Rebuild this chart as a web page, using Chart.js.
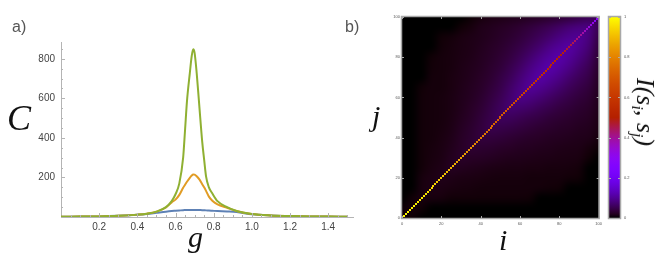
<!DOCTYPE html>
<html>
<head>
<meta charset="utf-8">
<script src="https://cdn.jsdelivr.net/npm/chart.js@4.4.1/dist/chart.umd.min.js"></script>
<style>
html,body{margin:0;padding:0;background:#fff}
body{position:relative;width:665px;height:261px;overflow:hidden}
canvas{position:absolute;top:0}
.t{position:absolute;white-space:nowrap;line-height:1}
.panel{font-family:"Liberation Sans",Arial,sans-serif;font-size:16px;color:#555}
.m{font-family:"Liberation Serif","DejaVu Serif",serif;font-style:italic;color:#111}
sub{font-size:0.62em;vertical-align:-0.28em;line-height:0}
</style>
</head>
<body>
<canvas id="cA" width="360" height="261" style="left:0"></canvas>
<canvas id="cB" width="245" height="261" style="left:360px"></canvas>
<canvas id="cC" width="40" height="261" style="left:600px"></canvas>
<div class="t panel" style="left:12px;top:19px">a)</div>
<div class="t panel" style="left:345px;top:19px">b)</div>
<div class="t m" style="left:7px;top:100px;font-size:36px">C</div>
<div class="t m" style="left:188px;top:222px;font-size:30px">g</div>
<div class="t m" style="left:372px;top:101px;font-size:30px">j</div>
<div class="t m" style="left:499px;top:225px;font-size:30px">i</div>
<div class="t m" style="left:645px;top:112px;font-size:26px;transform:translate(-50%,-50%) rotate(90deg)">I(s<sub>i</sub>, s<sub>j</sub>)</div>
<script>
// ---------- Panel a) data ----------
const gValues = [0, 0.1, 0.2, 0.3, 0.4, 0.45, 0.5, 0.55, 0.58, 0.6, 0.62, 0.64, 0.65, 0.66, 0.675, 0.685, 0.693, 0.70, 0.711, 0.725, 0.74, 0.75, 0.76, 0.775, 0.793, 0.82, 0.87, 0.92, 1.0, 1.1, 1.2, 1.3, 1.4, 1.5];
const blueC   = [1, 2, 3, 6, 11, 15, 21, 27, 30, 31.5, 33, 34.5, 35, 35.5, 36, 36, 36, 36, 35.5, 35, 34.5, 34, 33.5, 32.5, 31.5, 30, 28, 25, 14, 8, 5, 3, 2, 1.5];
const orangeC = [1, 2, 3, 6, 12, 17, 27, 48, 74, 88, 112, 148, 163, 178, 198, 210, 215, 214, 206, 190, 166, 150, 132, 103, 82, 64, 47, 30, 15, 8, 5, 3, 2, 1.5];
const greenC  = [1, 2, 3, 6, 12, 17, 27, 50, 80, 115, 170, 300, 440, 585, 728, 815, 848, 830, 728, 558, 380, 290, 205, 150, 119, 80, 50, 30, 15, 8, 5, 3, 2, 1.5];
const xTickLabels = ['0.2', '0.4', '0.6', '0.8', '1.0', '1.2', '1.4'];
const yTickLabels = ['200', '400', '600', '800'];

// ---------- Panel b) data ----------
const heatTicks = [0, 20, 40, 60, 80, 100];
const fieldNodes = [0, 5, 10, 15, 20, 25, 30, 35, 40, 45, 50, 55, 60, 65, 70, 75, 80, 85, 90, 95, 100];
// upper triangle: row a holds I for (node a, node b) with b = a..100
const fieldUpper = [
  [0.004,0.003,0,0,0,0,0,0,0,0,0,0,0,0,0,0,0,0,0,0,0],
  [0.007,0.004,0,0,0,0,0,0,0,0,0,0,0,0,0,0,0,0,0,0],
  [0.009,0.009,0.008,0.005,0.005,0.005,0.005,0.005,0.005,0.005,0.005,0.004,0,0,0,0,0,0,0],
  [0.012,0.012,0.010,0.009,0.008,0.007,0.007,0.007,0.007,0.007,0.007,0.006,0.005,0.004,0,0,0,0],
  [0.015,0.014,0.012,0.011,0.010,0.009,0.008,0.008,0.008,0.007,0.007,0.007,0.007,0.005,0.004,0,0],
  [0.020,0.019,0.017,0.015,0.013,0.012,0.011,0.011,0.010,0.010,0.009,0.009,0.008,0.006,0,0],
  [0.025,0.024,0.023,0.021,0.019,0.017,0.016,0.015,0.014,0.013,0.012,0.011,0.010,0.004,0],
  [0.031,0.030,0.029,0.026,0.024,0.021,0.020,0.018,0.017,0.015,0.014,0.013,0.008,0.003],
  [0.038,0.038,0.036,0.032,0.029,0.026,0.024,0.021,0.020,0.018,0.016,0.015,0.008],
  [0.048,0.047,0.044,0.040,0.035,0.031,0.028,0.025,0.023,0.020,0.018,0.012],
  [0.058,0.058,0.053,0.047,0.042,0.036,0.032,0.028,0.025,0.022,0.014],
  [0.072,0.070,0.065,0.056,0.049,0.041,0.036,0.030,0.026,0.016],
  [0.087,0.084,0.075,0.064,0.054,0.045,0.037,0.031,0.018],
  [0.100,0.095,0.084,0.070,0.057,0.046,0.037,0.021],
  [0.110,0.102,0.088,0.071,0.057,0.045,0.024],
  [0.115,0.104,0.088,0.069,0.053,0.028],
  [0.114,0.101,0.083,0.063,0.033],
  [0.108,0.093,0.074,0.038],
  [0.097,0.081,0.045],
  [0.082,0.053],
  [0.056]
];
// diagonal I(s_i, s_i), i = 0..100
const diagValues = [
  1.00,1.00,0.99,0.99,0.99,0.98,0.98,0.98,0.97,0.97,0.97,
  0.96,0.96,0.96,0.95,0.95,0.94,0.94,0.93,0.93,0.92,
  0.92,0.91,0.91,0.90,0.89,0.89,0.88,0.87,0.87,0.86,
  0.85,0.85,0.84,0.83,0.83,0.82,0.81,0.80,0.80,0.79,
  0.78,0.78,0.77,0.76,0.76,0.75,0.74,0.73,0.73,0.72,
  0.71,0.71,0.70,0.69,0.69,0.68,0.67,0.66,0.66,0.65,
  0.64,0.64,0.63,0.62,0.62,0.61,0.60,0.59,0.59,0.58,
  0.57,0.57,0.56,0.55,0.55,0.54,0.53,0.53,0.52,0.51,
  0.50,0.49,0.48,0.47,0.47,0.46,0.45,0.44,0.42,0.41,
  0.40,0.39,0.37,0.36,0.34,0.33,0.32,0.30,0.29,0.28
];
const colorbarTicks = [0, 0.2, 0.4, 0.6, 0.8, 1];

// ---------- helpers ----------
function rgbOf(v) { // gnuplot rgbformulae 7,5,15
  const x = Math.max(0, Math.min(1, v));
  const r = Math.sqrt(x), g = x * x * x, b = Math.max(0, Math.sin(2 * Math.PI * x));
  return [Math.round(r * 255), Math.round(g * 255), Math.round(b * 255)];
}
function palette(v) { const c = rgbOf(v); return 'rgb(' + c[0] + ',' + c[1] + ',' + c[2] + ')'; }
Chart.defaults.font.family = '"Liberation Sans", Arial, sans-serif';
Chart.defaults.animation = false;

const toPts = (ys) => gValues.map((g, i) => ({ x: g, y: ys[i] }));
const lineDs = (label, ys, color, order) => ({
  label, data: toPts(ys), borderColor: color, borderWidth: 2, showLine: true,
  pointRadius: 0, cubicInterpolationMode: 'monotone', fill: false, order
});

// inward ticks for panel a
const axisTicksA = {
  id: 'axisTicksA',
  afterDraw(chart) {
    const { ctx, chartArea: a, scales: { x, y } } = chart;
    ctx.save();
    ctx.strokeStyle = '#b4b4b4';
    ctx.lineWidth = 1;
    ctx.beginPath();
    x.ticks.forEach(t => {
      if (t.value <= 0) return;
      const k = Math.round(t.value * 20);
      const L = (k % 4 === 0) ? 4 : 2;
      const px = Math.round(x.getPixelForValue(t.value)) + 0.5;
      ctx.moveTo(px, a.bottom); ctx.lineTo(px, a.bottom - L);
    });
    y.ticks.forEach(t => {
      if (t.value <= 0) return;
      const L = (Math.round(t.value) % 200 === 0) ? 4 : 2;
      const py = Math.round(y.getPixelForValue(t.value)) + 0.5;
      ctx.moveTo(a.left, py); ctx.lineTo(a.left + L, py);
    });
    ctx.stroke();
    ctx.restore();
  }
};

new Chart(document.getElementById('cA'), {
  type: 'scatter',
  data: {
    datasets: [
      lineDs('L3', greenC, '#8FB032', 0),
      lineDs('L2', orangeC, '#E19C24', 1),
      lineDs('L1', blueC, '#5E81B5', 2)
    ]
  },
  options: {
    responsive: false, maintainAspectRatio: false, events: [],
    layout: { padding: { left: 0, top: 42, right: 7, bottom: 0 } },
    plugins: { legend: { display: false }, tooltip: { enabled: false } },
    scales: {
      x: {
        type: 'linear', min: 0, max: 1.53,
        grid: { display: false, drawTicks: false },
        border: { display: true, color: '#b4b4b4', width: 1 },
        ticks: {
          stepSize: 0.05, includeBounds: false, autoSkip: false, maxRotation: 0, padding: 4,
          color: '#444', font: { size: 10 },
          callback: (v) => { const k = Math.round(v * 20); if (k % 4 !== 0) return ''; const s = (k / 20).toFixed(1); return xTickLabels.includes(s) ? s : ''; }
        },
        afterFit: (s) => { s.height = 44; }
      },
      y: {
        type: 'linear', min: 0, max: 885,
        grid: { display: false, drawTicks: false },
        border: { display: true, color: '#b4b4b4', width: 1 },
        ticks: {
          stepSize: 50, includeBounds: false, autoSkip: false, padding: 6,
          color: '#444', font: { size: 10 },
          callback: (v) => { const s = String(Math.round(v)); return yTickLabels.includes(s) ? s : ''; }
        },
        afterFit: (s) => { s.width = 61; }
      }
    }
  },
  plugins: [axisTicksA]
});

// ---------- heatmap ----------
const fieldCells = [];
fieldUpper.forEach((row, a) => {
  row.forEach((v, k) => {
    const b = a + k;
    fieldCells.push({ x: fieldNodes[a], y: fieldNodes[b], v });
    if (a !== b) fieldCells.push({ x: fieldNodes[b], y: fieldNodes[a], v });
  });
});
const diagCells = diagValues.map((v, i) => ({ x: i, y: i, v }));

const heatPlugin = {
  id: 'heat',
  beforeDatasetsDraw(chart) {
    const { ctx, chartArea: a, scales: { x, y } } = chart;
    ctx.save();
    ctx.beginPath(); ctx.rect(a.left, a.top, a.width, a.height); ctx.clip();
    ctx.fillStyle = palette(0);
    ctx.fillRect(a.left, a.top, a.width, a.height);
    chart.data.datasets.forEach(ds => {
      const h = ds.cellSize / 2;
      if (ds.smooth) {
        // one texel per cell, placed over the cells' scale extent and resampled smoothly
        const xs = [...new Set(ds.data.map(p => p.x))].sort((p, q) => p - q);
        const ys = [...new Set(ds.data.map(p => p.y))].sort((p, q) => p - q);
        const off = document.createElement('canvas');
        off.width = xs.length; off.height = ys.length;
        const octx = off.getContext('2d');
        const img = octx.createImageData(xs.length, ys.length);
        ds.data.forEach(p => {
          const cx = xs.indexOf(p.x), cy = ys.length - 1 - ys.indexOf(p.y);
          const c = rgbOf(p.v), o = (cy * xs.length + cx) * 4;
          img.data[o] = c[0]; img.data[o + 1] = c[1]; img.data[o + 2] = c[2]; img.data[o + 3] = 255;
        });
        octx.putImageData(img, 0, 0);
        const x0 = x.getPixelForValue(xs[0] - h), x1 = x.getPixelForValue(xs[xs.length - 1] + h);
        const y0 = y.getPixelForValue(ys[ys.length - 1] + h), y1 = y.getPixelForValue(ys[0] - h);
        ctx.imageSmoothingEnabled = true;
        ctx.imageSmoothingQuality = 'high';
        ctx.drawImage(off, x0, y0, x1 - x0, y1 - y0);
        return;
      }
      ds.data.forEach(p => {
        const x0 = Math.round(x.getPixelForValue(p.x - h)), x1 = Math.round(x.getPixelForValue(p.x + h));
        const y0 = Math.round(y.getPixelForValue(p.y + h)), y1 = Math.round(y.getPixelForValue(p.y - h));
        ctx.fillStyle = palette(p.v);
        ctx.fillRect(x0, y0, Math.max(2, x1 - x0), Math.max(2, y1 - y0));
      });
    });
    ctx.restore();
  },
  afterDraw(chart) {
    const { ctx, chartArea: a, scales: { x, y } } = chart;
    ctx.save();
    ctx.strokeStyle = '#aaa'; ctx.lineWidth = 1;
    ctx.beginPath();
    heatTicks.forEach(t => {
      const px = Math.round(x.getPixelForValue(t)) + 0.5, py = Math.round(y.getPixelForValue(t)) + 0.5;
      ctx.moveTo(px, a.bottom); ctx.lineTo(px, a.bottom - 2);
      ctx.moveTo(px, a.top); ctx.lineTo(px, a.top + 2);
      ctx.moveTo(a.left, py); ctx.lineTo(a.left + 2, py);
      ctx.moveTo(a.right, py); ctx.lineTo(a.right - 2, py);
    });
    ctx.stroke();
    ctx.lineWidth = 1.5; ctx.strokeStyle = '#a8a8a8';
    ctx.strokeRect(a.left - 0.5, a.top - 0.5, a.width + 1, a.height + 1);
    ctx.restore();
  }
};

new Chart(document.getElementById('cB'), {
  type: 'scatter',
  data: {
    datasets: [
      { label: 'field', data: fieldCells, cellSize: 5, smooth: true, pointRadius: 0, showLine: false },
      { label: 'diag', data: diagCells, cellSize: 1, pointRadius: 0, showLine: false }
    ]
  },
  options: {
    responsive: false, maintainAspectRatio: false, events: [],
    layout: { padding: { left: 0, top: 17, right: 1, bottom: 0 } },
    plugins: { legend: { display: false }, tooltip: { enabled: false } },
    scales: {
      x: {
        type: 'linear', min: 0, max: 100,
        grid: { display: false, drawTicks: false }, border: { display: false },
        ticks: { stepSize: 20, padding: 3, color: '#555', font: { size: 4 }, maxRotation: 0,
          callback: (v) => heatTicks.includes(v) ? String(v) : '' },
        afterFit: (s) => { s.height = 43; }
      },
      y: {
        type: 'linear', min: 0, max: 100,
        grid: { display: false, drawTicks: false }, border: { display: false },
        ticks: { stepSize: 20, padding: 2, color: '#555', font: { size: 4 },
          callback: (v) => heatTicks.includes(v) ? String(v) : '' },
        afterFit: (s) => { s.width = 42; }
      }
    }
  },
  plugins: [heatPlugin]
});

// ---------- colorbar ----------
const cbPlugin = {
  id: 'cbFrame',
  afterDraw(chart) {
    const { ctx, chartArea: a, scales: { y } } = chart;
    ctx.save();
    ctx.strokeStyle = '#aaa'; ctx.lineWidth = 1;
    ctx.beginPath();
    colorbarTicks.forEach(t => {
      const py = Math.round(y.getPixelForValue(t)) + 0.5;
      ctx.moveTo(a.left, py); ctx.lineTo(a.left + 2, py);
      ctx.moveTo(a.right, py); ctx.lineTo(a.right - 2, py);
    });
    ctx.stroke();
    ctx.lineWidth = 1.5; ctx.strokeStyle = '#a8a8a8';
    ctx.strokeRect(a.left - 0.5, a.top - 0.5, a.width + 1, a.height + 1);
    ctx.restore();
  }
};
new Chart(document.getElementById('cC'), {
  type: 'bar',
  data: {
    labels: ['I'],
    datasets: [{
      data: [1], barPercentage: 1, categoryPercentage: 1, borderWidth: 0,
      backgroundColor: (c) => {
        const ch = c.chart, a = ch.chartArea;
        if (!a) return '#000';
        const grad = ch.ctx.createLinearGradient(0, a.bottom, 0, a.top);
        for (let k = 0; k <= 50; k++) grad.addColorStop(k / 50, palette(k / 50));
        return grad;
      }
    }]
  },
  options: {
    responsive: false, maintainAspectRatio: false, events: [],
    layout: { padding: { left: 9, top: 17, right: 0, bottom: 43 } },
    plugins: { legend: { display: false }, tooltip: { enabled: false } },
    scales: {
      x: { display: false },
      y: {
        position: 'right', min: 0, max: 1,
        grid: { display: false, drawTicks: false }, border: { display: false },
        ticks: { stepSize: 0.2, padding: 4, color: '#555', font: { size: 4 },
          callback: (v) => { const m = colorbarTicks.find(t => Math.abs(t - v) < 1e-6); return m === undefined ? '' : String(m); } },
        afterFit: (s) => { s.width = 20; }
      }
    }
  },
  plugins: [cbPlugin]
});
</script>
</body>
</html>
